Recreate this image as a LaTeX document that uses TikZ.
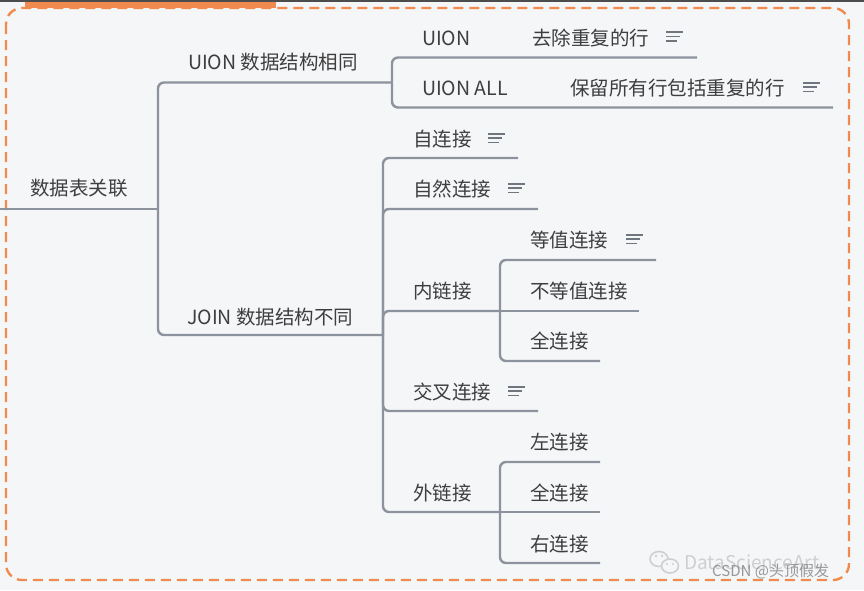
\documentclass[tikz,border=0pt]{standalone}
\usepackage{fontspec}
\setmainfont{Noto Sans CJK SC}
\definecolor{bgc}{HTML}{F5F6F8}
\definecolor{linec}{HTML}{8C939C}
\definecolor{txtc}{HTML}{3E3E3E}
\definecolor{orangec}{HTML}{F08A4E}
\definecolor{wmc}{HTML}{CFCFD2}
\begin{document}
\begin{tikzpicture}[x=1pt,y=-1pt,
  lbl/.style={anchor=west,inner sep=0pt,text=txtc,font=\fontsize{19.5}{21}\selectfont,text height=15pt,text depth=4pt},
  conn/.style={draw=linec,line width=2.4pt,rounded corners=6pt},
  noteline/.style={draw=linec!80!black,line width=1.6pt}]
\useasboundingbox (0,0) rectangle (864,590);
\fill[bgc] (0,0) rectangle (864,590);
\fill[black!70] (0,0) rectangle (864,1.5);
\fill[orangec] (25,1.5) rectangle (276,7.5);
\draw[orangec,line width=2.4pt,dash pattern=on 10pt off 6pt,rounded corners=16pt] (6,8) rectangle (849,580);

% text nodes
\node[lbl] (root) at (30,190) {数据表关联};
\node[lbl] (uion) at (188,64) {UION 数据结构相同};
\node[lbl] (join) at (187,319) {JOIN 数据结构不同};
\node[lbl] (u1) at (422,40) {UION};
\node[lbl] (u1a) at (532,40) {去除重复的行};
\node[lbl] (u2) at (422,90) {UION ALL};
\node[lbl] (u2a) at (570,90) {保留所有行包括重复的行};
\node[lbl] (j1) at (413,141) {自连接};
\node[lbl] (j2) at (413,191) {自然连接};
\node[lbl] (j3) at (413,293) {内链接};
\node[lbl] (j3a) at (530,242) {等值连接};
\node[lbl] (j3b) at (530,293) {不等值连接};
\node[lbl] (j3c) at (530,343) {全连接};
\node[lbl] (j4) at (413,394) {交叉连接};
\node[lbl] (j5) at (413,495) {外链接};
\node[lbl] (j5a) at (530,444) {左连接};
\node[lbl] (j5b) at (530,495) {全连接};
\node[lbl] (j5c) at (530,546) {右连接};

% junction coordinates
\coordinate (rs) at (0,209);
\coordinate (rj) at (158,209);
\coordinate (uj) at (392,82.5);
\coordinate (jj) at (383,335);
\coordinate (ij) at (500,311);
\coordinate (oj) at (500,512);

% connectors (underlines)
\draw[conn] (rs) -- (rj);
\draw[conn] (rj) |- (uj);
\draw[conn] (rj) |- (jj);
\draw[conn] (uj) |- (697,57.5);
\draw[conn] (uj) |- (833,107.5);
\draw[conn] (jj) |- (518,158);
\draw[conn] (jj) |- (538,209);
\draw[conn] (jj) |- (ij);
\draw[conn] (jj) |- (538,411);
\draw[conn] (jj) |- (oj);
\draw[conn] (ij) |- (656,260);
\draw[conn] (ij) -- (639,311);
\draw[conn] (ij) |- (600,361);
\draw[conn] (oj) |- (600,462);
\draw[conn] (oj) -- (600,512);
\draw[conn] (oj) |- (600,563);

% note icons
\foreach \x/\y in {666/36.5, 803/87, 488/138, 508/188, 626/239, 508/391}{
  \draw[noteline] (\x,\y-4.3) -- ++(17,0);
  \draw[noteline] (\x,\y) -- ++(14,0);
  \draw[noteline] (\x,\y+4.3) -- ++(11,0);
}

% watermark
\draw[wmc,line width=1.6pt] (659,559) ellipse (9pt and 7.5pt);
\fill[bgc] (670,566) ellipse (8.5pt and 7pt);
\draw[wmc,line width=1.6pt] (670,566) ellipse (8.5pt and 7pt);
\fill[wmc] (656,556) circle (1.3pt) (662,556) circle (1.3pt) (667,564) circle (1.2pt) (673,564) circle (1.2pt);
\node[anchor=west,inner sep=0pt,text=wmc,font=\fontsize{19}{20}\selectfont] (wm1) at (684,562) {DataScienceArt};
\node[anchor=west,inner sep=0pt,text=black!50,opacity=0.8,font=\fontsize{15}{16}\selectfont] (wm2) at (712,571) {CSDN @头顶假发};
\end{tikzpicture}
\end{document}
